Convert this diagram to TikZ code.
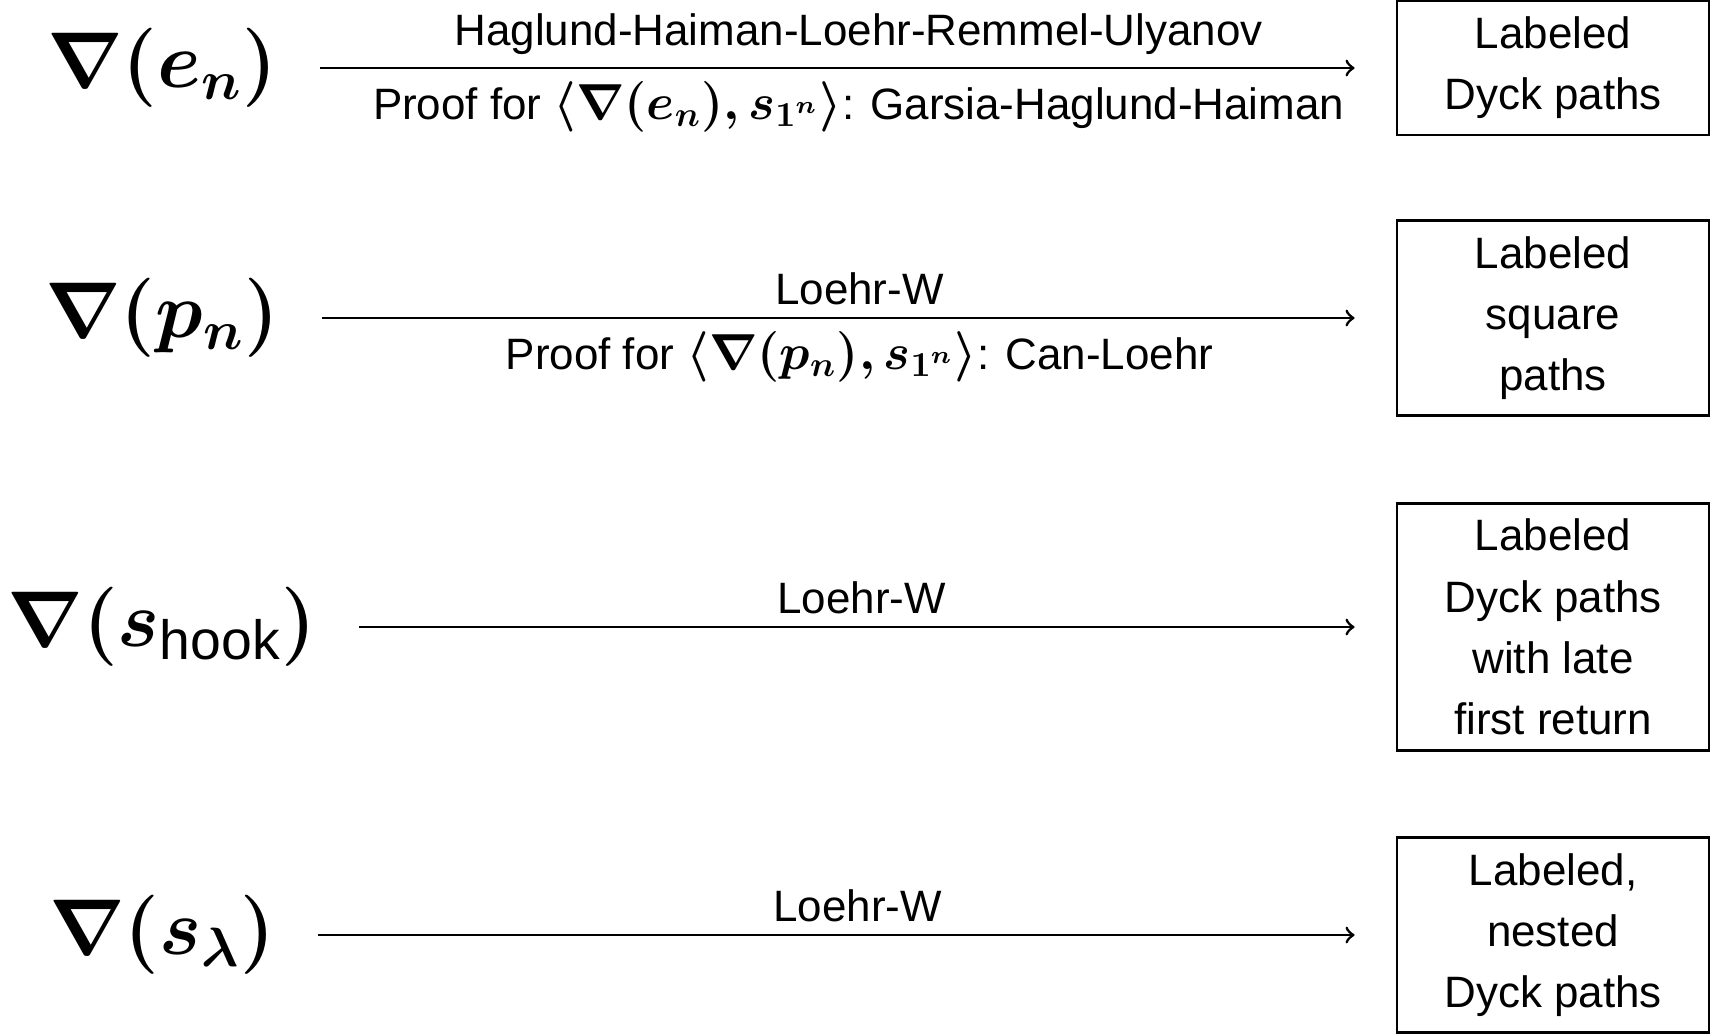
\documentclass[tikz,border=0pt]{standalone}
\usepackage{fix-cm}
\usepackage{amsmath}
\usepackage{bm}
\usepackage[no-math]{fontspec}
\setmainfont{Liberation Sans}
\usetikzlibrary{arrows}
\newcommand{\bigmath}[1]{{\fontsize{14.4}{17}\selectfont$\bm{#1}$}}

\begin{document}
\begin{tikzpicture}
  [->,>={to[scale=1.25]},shorten <=3.15mm,shorten >=4.1mm,thick,
	math node/.style={inner sep=1mm,
  font=\fontsize{22.5}{27}\selectfont},
	path box/.style={rectangle,draw,align=center,minimum width=3.12cm,
  inner sep=1.6mm,font=\fontsize{12.5}{17.4}\selectfont}]

  \useasboundingbox (0,0) rectangle (17.14,-10.33);

  \node[math node] (en) at (1.62,-0.68) {$\bm{\nabla(e_n)}$};
  \node[math node] (pn) at (1.62,-3.18) {$\bm{\nabla(p_n)}$};
  \node[math node] (sh) at (1.62,-6.27) {$\bm{\nabla}\bm{(}\bm{s}_{\text{hook}}\bm{)}$};
  \node[math node] (sl) at (1.62,-9.35) {$\bm{\nabla(s_\lambda)}$};

  \node[path box] (D1) at (15.53,-0.68) {Labeled\\Dyck paths};
  \node[path box] (D2) at (15.53,-3.18) {Labeled\\square\\paths};
  \node[path box] (D3) at (15.53,-6.27) {Labeled\\Dyck paths\\with late\\first return};
  \node[path box] (D4) at (15.53,-9.35) {Labeled,\\nested\\Dyck paths};

  \path[every node/.style={font=\fontsize{12.5}{17.4}\selectfont}]
    (en) edge node[above,pos=.515] {Haglund-Haiman-Loehr-Remmel-Ulyanov}
        node[below,pos=.515] {Proof for \bigmath{\langle\nabla(e_n),s_{1^n}\rangle}: Garsia-Haglund-Haiman} (D1)
    (pn) edge node[above,pos=.515] {Loehr-W}
        node[below,pos=.515] {Proof for \bigmath{\langle\nabla(p_n),s_{1^n}\rangle}: Can-Loehr} (D2)
    (sh) edge node[above] {Loehr-W} (D3)
    (sl) edge node[above,pos=.515] {Loehr-W} (D4);
\end{tikzpicture}
\end{document}
